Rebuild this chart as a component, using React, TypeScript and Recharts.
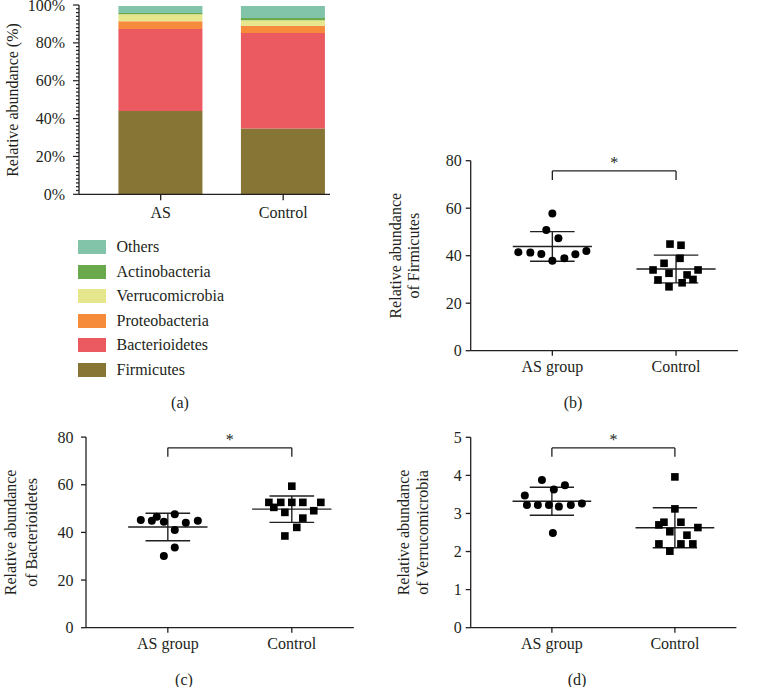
import React from "react";
import { BarChart, Bar, XAxis, YAxis, Legend, ScatterChart, Scatter, ReferenceLine } from "recharts";

// panel (a): stacked composition, % per group
const barGroups = ["AS", "Control"];
const firmicutes = [44.0, 34.7];
const bacterioidetes = [43.3, 50.5];
const proteobacteria = [4.1, 3.9];
const verrucomicrobia = [3.7, 2.8];
const actinobacteria = [0.7, 1.2];
const others = [3.7, 6.4];
const legendOrder = ["Others", "Actinobacteria", "Verrucomicrobia", "Proteobacteria", "Bacterioidetes", "Firmicutes"];

// scatter panels
const groups = ["AS group", "Control"];

const firmAS = [41.5, 41.3, 40.7, 37.9, 38.9, 40.6, 42.0, 50.8, 47.3, 57.8];
const firmASJitter = [-0.275, -0.178, -0.089, 0, 0.097, 0.186, 0.275, -0.049, 0.049, 0];
const firmCtrl = [34.0, 36.8, 32.6, 38.9, 44.9, 44.4, 29.8, 26.9, 28.6, 31.9, 30.0, 34.0];
const firmCtrlJitter = [-0.186, -0.097, -0.057, 0.032, -0.049, 0.04, -0.146, -0.057, 0.049, 0.089, 0.137, 0.178];

const bactAS = [45.2, 44.9, 46.6, 44.5, 47.6, 41.0, 44.1, 44.9, 33.7, 30.1];
const bactASJitter = [-0.218, -0.129, -0.089, -0.032, 0.056, 0.056, 0.145, 0.242, 0.056, -0.032];
const bactCtrl = [52.6, 50.5, 52.6, 48.4, 52.6, 52.6, 52.6, 49.1, 46.0, 42.1, 38.5, 59.4];
const bactCtrlJitter = [-0.185, -0.145, -0.089, -0.056, 0, 0.089, 0.234, 0.177, 0.089, 0.04, -0.056, 0];

const verrAS = [3.47, 3.88, 3.63, 3.74, 3.22, 3.22, 3.22, 3.18, 3.22, 3.26, 2.49];
const verrASJitter = [-0.22, -0.081, 0.016, 0.106, -0.203, -0.114, -0.024, 0.057, 0.154, 0.244, 0.008];
const verrCtrl = [3.96, 3.12, 2.7, 2.77, 2.77, 2.52, 2.63, 2.43, 2.2, 2.01, 2.2, 2.2];
const verrCtrlJitter = [0, 0, -0.13, -0.089, 0.049, -0.041, 0.187, 0.098, -0.13, -0.041, 0.049, 0.146];

const FONT = "'Liberation Serif', 'DejaVu Serif', serif";
const INK = "#231f20";
const tickStyle = { fontSize: 16, fill: INK, style: { fontFamily: FONT } };

const barData = barGroups.map((name, i) => ({
  x: i + 1,
  name,
  Firmicutes: firmicutes[i],
  Bacterioidetes: bacterioidetes[i],
  Proteobacteria: proteobacteria[i],
  Verrucomicrobia: verrucomicrobia[i],
  Actinobacteria: actinobacteria[i],
  Others: others[i],
}));

const mean = (a: number[]) => a.reduce((s, v) => s + v, 0) / a.length;
const sd = (a: number[]) => {
  const m = mean(a);
  return Math.sqrt(a.reduce((s, v) => s + (v - m) * (v - m), 0) / (a.length - 1));
};
const toPoints = (vals: number[], jit: number[], pos: number) =>
  vals.map((y, i) => ({ x: pos + jit[i], y }));

const PctTick = (p: any) => {
  const v = p.payload.value;
  const major = v % 20 === 0;
  const ax = p.x + 14;
  return (
    <g>
      <line x1={ax - (major ? 6 : 3)} x2={ax} y1={p.y} y2={p.y} stroke={INK} strokeWidth={1.2} />
      {major && (
        <text x={p.x} y={p.y} dy="0.35em" textAnchor="end" fontSize={16} fill={INK} style={{ fontFamily: FONT }}>
          {v}%
        </text>
      )}
    </g>
  );
};

const Dot = (p: any) => <circle cx={p.cx} cy={p.cy} r={4} fill="#000" />;
const Square = (p: any) => <rect x={p.cx - 3.8} y={p.cy - 3.8} width={7.6} height={7.6} fill="#000" />;

const VLabel = ({ lines, xs, cy }: { lines: string[]; xs: number[]; cy: number }) => (
  <g>
    {lines.map((t, i) => (
      <text
        key={i}
        x={xs[i]}
        y={cy}
        transform={`rotate(-90 ${xs[i]} ${cy})`}
        textAnchor="middle"
        dominantBaseline="central"
        fontSize={16}
        fill={INK}
        style={{ fontFamily: FONT }}
      >
        {t}
      </text>
    ))}
  </g>
);

type PanelProps = {
  left: number;
  top: number;
  width: number;
  height: number;
  margin: { top: number; right: number; bottom: number; left: number };
  yAxisWidth: number;
  yTickMargin: number;
  yMax: number;
  yTicks: number[];
  label: string[];
  labelXs: number[];
  bracket: [number, number];
  asVals: number[];
  asJit: number[];
  ctrlVals: number[];
  ctrlJit: number[];
};

const errorLines = (vals: number[], pos: number, key: string) => {
  const m = mean(vals);
  const s = sd(vals);
  const st = { stroke: INK, strokeWidth: 1.4 };
  return [
    <ReferenceLine key={key + "m"} segment={[{ x: pos - 0.32, y: m }, { x: pos + 0.32, y: m }]} {...st} ifOverflow="visible" />,
    <ReferenceLine key={key + "v"} segment={[{ x: pos, y: m - s }, { x: pos, y: m + s }]} {...st} ifOverflow="visible" />,
    <ReferenceLine key={key + "h"} segment={[{ x: pos - 0.18, y: m + s }, { x: pos + 0.18, y: m + s }]} {...st} ifOverflow="visible" />,
    <ReferenceLine key={key + "l"} segment={[{ x: pos - 0.18, y: m - s }, { x: pos + 0.18, y: m - s }]} {...st} ifOverflow="visible" />,
  ];
};

const ScatterPanel = (p: PanelProps) => {
  const plotH = p.height - p.margin.top - p.margin.bottom - 30;
  const cy = p.margin.top + plotH / 2;
  const [bt, bb] = p.bracket;
  const st = { stroke: INK, strokeWidth: 1.3 };
  return (
    <div style={{ position: "absolute", left: p.left, top: p.top }}>
      <ScatterChart width={p.width} height={p.height} margin={p.margin} style={{ fontFamily: FONT }}>
        <XAxis
          type="number"
          dataKey="x"
          domain={[0.34, 2.5]}
          allowDataOverflow
          ticks={[1, 2]}
          interval={0}
          tickFormatter={(v: number) => groups[Math.round(v) - 1]}
          tick={tickStyle}
          tickSize={5}
          tickMargin={5}
          axisLine={st}
          tickLine={st}
          height={30}
        />
        <YAxis
          type="number"
          dataKey="y"
          domain={[0, p.yMax]}
          allowDataOverflow
          ticks={p.yTicks}
          interval={0}
          tick={tickStyle}
          tickSize={5}
          tickMargin={p.yTickMargin}
          axisLine={st}
          tickLine={st}
          width={p.yAxisWidth}
          label={() => <VLabel lines={p.label} xs={p.labelXs} cy={cy} />}
        />
        <ReferenceLine
          segment={[{ x: 1, y: bt }, { x: 2, y: bt }]}
          {...st}
          ifOverflow="visible"
          label={{ value: "*", position: "top", offset: 3, fontSize: 16, fill: INK, style: { fontFamily: FONT } }}
        />
        <ReferenceLine segment={[{ x: 1, y: bt }, { x: 1, y: bb }]} {...st} ifOverflow="visible" />
        <ReferenceLine segment={[{ x: 2, y: bt }, { x: 2, y: bb }]} {...st} ifOverflow="visible" />
        <Scatter data={toPoints(p.asVals, p.asJit, 1)} shape={Dot} isAnimationActive={false} />
        <Scatter data={toPoints(p.ctrlVals, p.ctrlJit, 2)} shape={Square} isAnimationActive={false} />
        {errorLines(p.asVals, 1, "as")}
        {errorLines(p.ctrlVals, 2, "ct")}
      </ScatterChart>
    </div>
  );
};

const LegendBox = (props: any) => {
  const items = [...(props.payload || [])].sort(
    (a: any, b: any) => legendOrder.indexOf(a.value) - legendOrder.indexOf(b.value)
  );
  return (
    <div>
      {items.map((it: any) => (
        <div key={it.value} style={{ display: "flex", alignItems: "center", height: 24.5 }}>
          <span style={{ width: 27.5, height: 14, background: it.color, display: "inline-block" }} />
          <span style={{ marginLeft: 11, fontSize: 16, color: INK, fontFamily: FONT }}>{it.value}</span>
        </div>
      ))}
    </div>
  );
};

const pctTicks = Array.from({ length: 51 }, (_, i) => i * 2);

const caption = (t: string, x: number, y: number) => (
  <div
    style={{
      position: "absolute",
      left: x,
      top: y,
      transform: "translate(-50%, -50%)",
      fontSize: 16,
      color: INK,
      fontFamily: FONT,
    }}
  >
    {t}
  </div>
);

export default function App() {
  const st = { stroke: INK, strokeWidth: 1.3 };
  return (
    <div
      style={{
        position: "absolute",
        left: 0,
        top: 0,
        width: 759,
        height: 687,
        background: "#fff",
        fontFamily: FONT,
        overflow: "hidden",
      }}
    >
      <div style={{ position: "absolute", left: 0, top: 0 }}>
        <BarChart
          width={345}
          height={400}
          data={barData}
          margin={{ top: 5, right: 15, bottom: 175.7, left: 0 }}
          barSize={84}
          style={{ fontFamily: FONT }}
        >
          <XAxis
            type="number"
            dataKey="x"
            domain={[1 - 82 / 123, 2 + 47 / 123]}
            allowDataOverflow
            ticks={[1, 2]}
            interval={0}
            tickFormatter={(v: number) => barGroups[Math.round(v) - 1]}
            tick={tickStyle}
            tickSize={6}
            tickMargin={6}
            axisLine={st}
            tickLine={st}
            height={30}
          />
          <YAxis
            type="number"
            domain={[0, 100]}
            ticks={pctTicks}
            interval={0}
            tick={PctTick}
            tickLine={false}
            tickSize={6}
            tickMargin={8}
            axisLine={st}
            width={79}
            label={() => <VLabel lines={["Relative abundance (%)"]} xs={[12]} cy={100} />}
          />
          <Legend
            layout="vertical"
            align="center"
            verticalAlign="middle"
            content={LegendBox}
            wrapperStyle={{ top: 235, left: 78, width: 240, height: 150 }}
          />
          <Bar dataKey="Firmicutes" name="Firmicutes" stackId="a" fill="#867534" isAnimationActive={false} />
          <Bar dataKey="Bacterioidetes" name="Bacterioidetes" stackId="a" fill="#eb5961" isAnimationActive={false} />
          <Bar dataKey="Proteobacteria" name="Proteobacteria" stackId="a" fill="#f68b3b" isAnimationActive={false} />
          <Bar dataKey="Verrucomicrobia" name="Verrucomicrobia" stackId="a" fill="#e6e78c" isAnimationActive={false} />
          <Bar dataKey="Actinobacteria" name="Actinobacteria" stackId="a" fill="#6aaa4a" isAnimationActive={false} />
          <Bar dataKey="Others" name="Others" stackId="a" fill="#82c4a9" isAnimationActive={false} />
        </BarChart>
      </div>

      <ScatterPanel
        left={360}
        top={150}
        width={390}
        height={250}
        margin={{ top: 10.7, right: 12.1, bottom: 19.3, left: 0 }}
        yAxisWidth={110.7}
        yTickMargin={4}
        yMax={80}
        yTicks={[0, 20, 40, 60, 80]}
        label={["Relative abundance", "of Firmicutes"]}
        labelXs={[36, 54]}
        bracket={[75.7, 71.9]}
        asVals={firmAS}
        asJit={firmASJitter}
        ctrlVals={firmCtrl}
        ctrlJit={firmCtrlJitter}
      />

      <ScatterPanel
        left={0}
        top={425}
        width={370}
        height={250}
        margin={{ top: 12.1, right: 16.2, bottom: 17.3, left: 0 }}
        yAxisWidth={86}
        yTickMargin={7.5}
        yMax={80}
        yTicks={[0, 20, 40, 60, 80]}
        label={["Relative abundance", "of Bacterioidetes"]}
        labelXs={[11, 32]}
        bracket={[75.5, 71.8]}
        asVals={bactAS}
        asJit={bactASJitter}
        ctrlVals={bactCtrl}
        ctrlJit={bactCtrlJitter}
      />

      <ScatterPanel
        left={360}
        top={425}
        width={390}
        height={250}
        margin={{ top: 12.3, right: 13.6, bottom: 17.3, left: 0 }}
        yAxisWidth={110.7}
        yTickMargin={4}
        yMax={5}
        yTicks={[0, 1, 2, 3, 4, 5]}
        label={["Relative abundance", "of Verrucomicrobia"]}
        labelXs={[43, 62]}
        bracket={[4.72, 4.49]}
        asVals={verrAS}
        asJit={verrASJitter}
        ctrlVals={verrCtrl}
        ctrlJit={verrCtrlJitter}
      />

      {caption("(a)", 180, 403)}
      {caption("(b)", 573, 403)}
      {caption("(c)", 184, 680)}
      {caption("(d)", 577, 680)}
    </div>
  );
}
